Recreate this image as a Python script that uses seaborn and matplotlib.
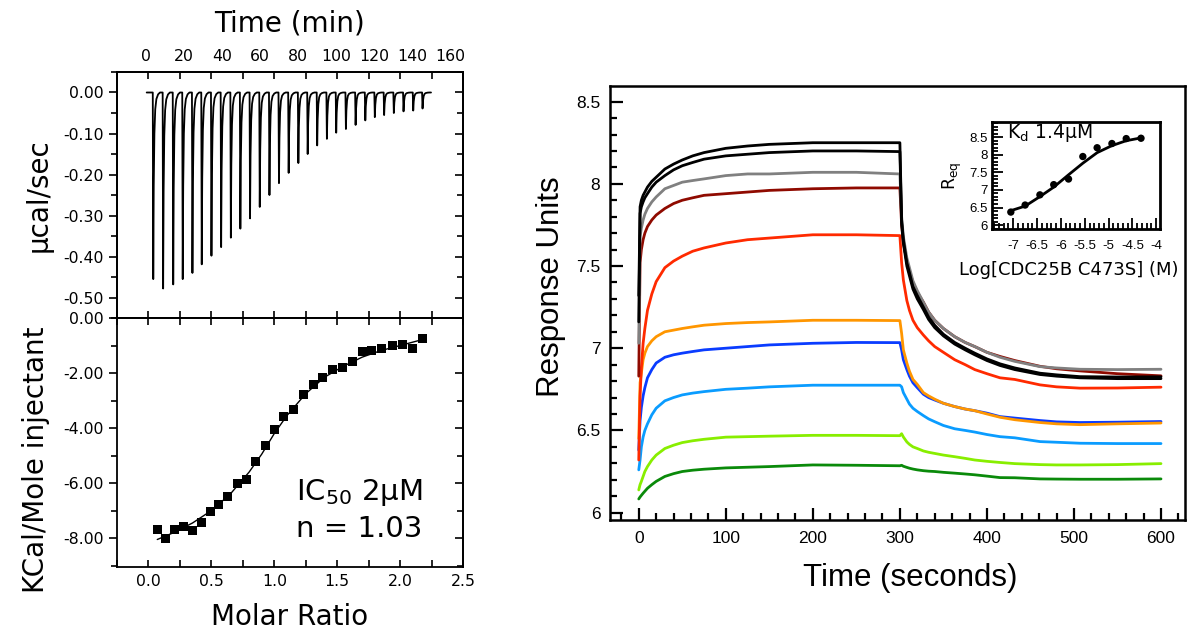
import matplotlib
matplotlib.use("Agg")
import numpy as np
import pandas as pd
import matplotlib.pyplot as plt
import seaborn as sns
from matplotlib.ticker import MultipleLocator, FormatStrFormatter

sns.set_style("ticks")
plt.rcParams["font.family"] = ["DejaVu Sans"]
plt.rcParams["axes.unicode_minus"] = False
for k in ("text.color", "axes.labelcolor", "xtick.color", "ytick.color", "axes.edgecolor"):
    plt.rcParams[k] = "black"

# ---------------- ITC raw data (injection times in min, peak depth in ucal/sec)
inj_time = [3.7, 8.9, 14.2, 19.2, 24.3, 29.2, 34.3, 39.4, 44.5, 49.5, 54.6, 59.7,
            64.8, 69.8, 74.9, 80.0, 84.9, 89.9, 95.0, 99.9, 105.0, 110.1, 115.2,
            120.2, 125.1, 130.2, 135.3, 140.4, 145.3]
inj_peak = [-0.455, -0.478, -0.468, -0.455, -0.440, -0.419, -0.398, -0.377, -0.354,
            -0.332, -0.307, -0.279, -0.250, -0.221, -0.196, -0.172, -0.150, -0.129,
            -0.113, -0.098, -0.089, -0.079, -0.068, -0.060, -0.055, -0.050, -0.046,
            -0.044, -0.039]
peak_dt = [0.0, 0.25, 0.5, 0.85, 1.3, 1.9, 2.8, 3.8]
peak_frac = [0.0, 1.0, 0.5, 0.22, 0.09, 0.035, 0.01, 0.0]
baseline_span = [0.5, 150.0]

# ---------------- ITC integrated heats
molar_ratio = [0.07, 0.139, 0.21, 0.28, 0.35, 0.42, 0.49, 0.56, 0.63, 0.71, 0.78, 0.85,
               0.93, 1.00, 1.07, 1.15, 1.23, 1.31, 1.38, 1.46, 1.54, 1.62, 1.70, 1.77,
               1.85, 1.94, 2.02, 2.10, 2.18]
heat = [-7.68, -8.00, -7.68, -7.58, -7.73, -7.43, -7.04, -6.78, -6.47, -6.03, -5.87,
        -5.22, -4.62, -4.05, -3.57, -3.31, -2.77, -2.41, -2.17, -1.87, -1.79, -1.58,
        -1.23, -1.19, -1.12, -0.99, -0.96, -1.10, -0.74]
fit_ratio = [0.07, 0.2, 0.35, 0.5, 0.65, 0.8, 0.9, 1.0, 1.1, 1.25, 1.4, 1.55, 1.7,
             1.85, 2.0, 2.18]
fit_heat = [-8.05, -7.8, -7.45, -7.0, -6.4, -5.6, -4.95, -4.2, -3.55, -2.75, -2.15,
            -1.75, -1.42, -1.18, -1.0, -0.78]

# ---------------- SPR sensorgrams (time in s, response units)
spr_time = [0, 1.5, 3, 5, 7, 10, 15, 20, 30, 40, 50, 62, 75, 100, 125, 150, 200, 250,
            300, 302, 304, 308, 311, 315, 320, 327, 333, 340, 350, 363, 375, 386, 400,
            415, 432, 461, 480, 507, 550, 600]
spr_black1 = [7.32, 7.86, 7.90, 7.93, 7.95, 7.98, 8.015, 8.04, 8.09, 8.12, 8.145, 8.17,
              8.19, 8.216, 8.23, 8.24, 8.25, 8.25, 8.25, 7.78, 7.66, 7.52, 7.46, 7.375,
              7.32, 7.25, 7.19, 7.14, 7.085, 7.035, 7.0, 6.97, 6.935, 6.905, 6.88, 6.848,
              6.838, 6.827, 6.825, 6.826]
spr_black2 = [7.16, 7.82, 7.86, 7.89, 7.915, 7.94, 7.98, 8.01, 8.05, 8.085, 8.11, 8.13,
              8.15, 8.17, 8.18, 8.19, 8.20, 8.20, 8.196, 7.76, 7.64, 7.50, 7.44, 7.36,
              7.30, 7.235, 7.175, 7.125, 7.075, 7.025, 6.99, 6.96, 6.925, 6.895, 6.87,
              6.84, 6.83, 6.82, 6.815, 6.815]
spr_gray = [7.03, 7.68, 7.73, 7.78, 7.815, 7.85, 7.89, 7.92, 7.97, 7.99, 8.01, 8.02,
            8.03, 8.05, 8.06, 8.06, 8.07, 8.07, 8.06, 7.80, 7.68, 7.55, 7.49, 7.41, 7.35,
            7.28, 7.22, 7.17, 7.12, 7.07, 7.035, 7.01, 6.975, 6.945, 6.92, 6.888, 6.88,
            6.872, 6.87, 6.872]
spr_darkred = [6.83, 7.52, 7.60, 7.66, 7.70, 7.74, 7.78, 7.81, 7.85, 7.88, 7.90, 7.915,
               7.93, 7.94, 7.95, 7.96, 7.97, 7.975, 7.975, 7.75, 7.64, 7.53, 7.47, 7.40,
               7.34, 7.28, 7.22, 7.17, 7.12, 7.07, 7.035, 7.01, 6.975, 6.95, 6.925, 6.89,
               6.875, 6.862, 6.845, 6.832]
spr_red = [6.32, 6.71, 6.88, 7.03, 7.12, 7.23, 7.33, 7.405, 7.49, 7.53, 7.56, 7.59,
           7.61, 7.64, 7.66, 7.67, 7.69, 7.69, 7.685, 7.52, 7.415, 7.29, 7.23, 7.17,
           7.125, 7.08, 7.045, 7.01, 6.975, 6.93, 6.90, 6.87, 6.845, 6.82, 6.81, 6.777,
           6.765, 6.757, 6.758, 6.763]
spr_orange = [6.45, 6.79, 6.85, 6.93, 6.97, 7.01, 7.045, 7.07, 7.10, 7.11, 7.12, 7.13,
              7.14, 7.15, 7.156, 7.16, 7.17, 7.17, 7.168, 7.09, 6.99, 6.91, 6.86, 6.81,
              6.78, 6.73, 6.71, 6.69, 6.665, 6.645, 6.63, 6.62, 6.60, 6.58, 6.565, 6.548,
              6.54, 6.535, 6.54, 6.545]
spr_blue = [6.38, 6.56, 6.64, 6.71, 6.76, 6.82, 6.87, 6.91, 6.945, 6.96, 6.97, 6.98,
            6.99, 7.00, 7.01, 7.02, 7.03, 7.035, 7.034, 6.99, 6.93, 6.87, 6.83, 6.79,
            6.76, 6.72, 6.70, 6.685, 6.665, 6.645, 6.63, 6.62, 6.605, 6.584, 6.575, 6.56,
            6.552, 6.548, 6.55, 6.554]
spr_lightblue = [6.26, 6.32, 6.40, 6.46, 6.50, 6.54, 6.595, 6.635, 6.68, 6.70, 6.716,
                 6.727, 6.736, 6.75, 6.757, 6.765, 6.775, 6.775, 6.775, 6.765, 6.73, 6.69,
                 6.66, 6.635, 6.615, 6.59, 6.57, 6.553, 6.53, 6.51, 6.50, 6.49, 6.475,
                 6.462, 6.455, 6.432, 6.428, 6.422, 6.42, 6.42]
spr_lightgreen = [6.138, 6.17, 6.19, 6.22, 6.25, 6.28, 6.32, 6.35, 6.39, 6.41, 6.426,
                  6.437, 6.446, 6.459, 6.462, 6.465, 6.47, 6.47, 6.468, 6.48, 6.46, 6.43,
                  6.415, 6.40, 6.39, 6.375, 6.367, 6.36, 6.35, 6.34, 6.33, 6.32, 6.312,
                  6.305, 6.298, 6.292, 6.29, 6.29, 6.292, 6.298]
spr_darkgreen = [6.083, 6.095, 6.105, 6.118, 6.13, 6.148, 6.17, 6.19, 6.22, 6.237, 6.25,
                 6.258, 6.264, 6.272, 6.276, 6.28, 6.29, 6.288, 6.285, 6.288, 6.282,
                 6.275, 6.27, 6.265, 6.26, 6.255, 6.252, 6.25, 6.245, 6.24, 6.235, 6.23,
                 6.222, 6.213, 6.212, 6.205, 6.204, 6.203, 6.203, 6.205]
spr_names = ["darkgreen", "lightgreen", "lightblue", "blue", "orange", "red", "darkred",
             "gray", "black2", "black1"]
spr_colors = ["#0a8a0a", "#88ee00", "#0a9cff", "#0a3cff", "#ff9600", "#ff2a00",
              "#8f0a00", "#808080", "#000000", "#000000"]

# ---------------- Inset (Req vs log conc)
log_conc = [-7.05, -6.75, -6.44, -6.15, -5.84, -5.54, -5.24, -4.93, -4.63, -4.32]
r_eq = [6.37, 6.57, 6.86, 7.15, 7.31, 7.95, 8.20, 8.32, 8.46, 8.47]
fit_log = [-7.05, -6.75, -6.44, -6.15, -5.84, -5.54, -5.24, -4.93, -4.63, -4.32]
fit_req = [6.41, 6.54, 6.81, 7.08, 7.43, 7.76, 8.06, 8.26, 8.40, 8.48]

# ============================================================
fig = plt.figure(figsize=(11.88, 6.31), dpi=100)

ax1 = fig.add_axes([0.0985, 0.496, 0.2912, 0.3899])
ax2 = fig.add_axes([0.0985, 0.1014, 0.2912, 0.3946])
ax3 = fig.add_axes([0.5135, 0.1759, 0.484, 0.6878])
ax4 = fig.add_axes([0.8348, 0.6366, 0.1417, 0.1705])

itc_fs = 11.3
lab_fs = 20

# ---- ITC raw trace
tt = [baseline_span[0]]
yy = [0.0]
for t0, p in zip(inj_time, inj_peak):
    for d, f in zip(peak_dt, peak_frac):
        tt.append(t0 + d)
        yy.append(p * f)
tt.append(baseline_span[1])
yy.append(0.0)

ax1t = ax1.twiny()
ax1.set_xlim(-0.25, 2.5)
ax1.set_ylim(-0.55, 0.05)
ax1t.set_xlim(-15.1, 166.8)
sns.lineplot(x=tt, y=yy, ax=ax1t, color="black", lw=1.3, estimator=None, sort=False)
ax1t.set_xticks(np.arange(0, 161, 20))
ax1t.tick_params(axis="x", length=0, labelsize=itc_fs, pad=6)
ax1t.set_xlabel("Time (min)", fontsize=lab_fs, labelpad=12)
ax1.xaxis.set_major_locator(MultipleLocator(0.25))
ax1.tick_params(axis="x", which="both", top=True, bottom=True, direction="in",
                labelbottom=False, labeltop=False, length=5, width=1.2)
ax1.yaxis.set_major_locator(MultipleLocator(0.1))
ax1.yaxis.set_minor_locator(MultipleLocator(0.05))
ax1.yaxis.set_major_formatter(FormatStrFormatter("%.2f"))
ax1.tick_params(axis="y", which="both", direction="out", labelsize=itc_fs, width=1.2)
ax1.tick_params(axis="y", which="major", length=6)
ax1.tick_params(axis="y", which="minor", length=4)
ax1.set_ylabel("μcal/sec", fontsize=lab_fs)
ax1.yaxis.set_label_coords(-0.185, 0.5)
sec1 = ax1.secondary_yaxis("right")
sec1.yaxis.set_major_locator(MultipleLocator(0.1))
sec1.yaxis.set_minor_locator(MultipleLocator(0.05))
sec1.tick_params(which="both", direction="in", labelright=False, width=1.2)
sec1.tick_params(which="major", length=6)
sec1.tick_params(which="minor", length=4)

# ---- ITC integrated
sns.lineplot(x=fit_ratio, y=fit_heat, ax=ax2, color="black", lw=1.0, estimator=None)
sns.scatterplot(x=molar_ratio, y=heat, ax=ax2, color="black", marker="s", s=42,
                edgecolor="none", zorder=5)
ax2.set_xlim(-0.25, 2.5)
ax2.set_ylim(-9.05, 0)
ax2.xaxis.set_major_locator(MultipleLocator(0.5))
ax2.xaxis.set_minor_locator(MultipleLocator(0.25))
ax2.xaxis.set_major_formatter(FormatStrFormatter("%.1f"))
ax2.tick_params(axis="x", which="both", top=True, bottom=True, direction="in",
                length=5, width=1.2, labelsize=itc_fs, pad=5)
ax2.yaxis.set_major_locator(MultipleLocator(2))
ax2.yaxis.set_minor_locator(MultipleLocator(1))
ax2.yaxis.set_major_formatter(FormatStrFormatter("%.2f"))
ax2.tick_params(axis="y", which="both", direction="out", labelsize=itc_fs, width=1.2)
ax2.tick_params(axis="y", which="major", length=6)
ax2.tick_params(axis="y", which="minor", length=4)
sec2 = ax2.secondary_yaxis("right")
sec2.yaxis.set_major_locator(MultipleLocator(2))
sec2.yaxis.set_minor_locator(MultipleLocator(1))
sec2.tick_params(which="both", direction="in", labelright=False, width=1.2)
sec2.tick_params(which="major", length=6)
sec2.tick_params(which="minor", length=4)
ax2.set_xlabel("Molar Ratio", fontsize=lab_fs, labelpad=10)
ax2.set_ylabel("KCal/Mole injectant", fontsize=lab_fs)
ax2.yaxis.set_label_coords(-0.195, 0.43)
ax2.text(1.175, -6.61, "IC$_{50}$ 2μM", fontsize=21, ha="left", va="baseline")
ax2.text(1.175, -7.97, "n = 1.03", fontsize=21, ha="left", va="baseline")

for a in (ax1, ax2, ax1t):
    for s in a.spines.values():
        s.set_linewidth(1.3)
for s in (sec1, sec2):
    s.spines["right"].set_linewidth(1.3)

# ---- SPR
rows = []
spr_values = [spr_darkgreen, spr_lightgreen, spr_lightblue, spr_blue, spr_orange,
              spr_red, spr_darkred, spr_gray, spr_black2, spr_black1]
for name, vals in zip(spr_names, spr_values):
    for t, v in zip(spr_time, vals):
        rows.append((name, t, v))
spr_df = pd.DataFrame(rows, columns=["curve", "time", "ru"])
sns.lineplot(data=spr_df, x="time", y="ru", hue="curve", hue_order=spr_names,
             palette=spr_colors, ax=ax3, lw=2.0, estimator=None, legend=False)
ax3.set_xlim(-33, 627.6)
ax3.set_ylim(5.955, 8.595)
spr_font = "Liberation Sans"
ax3.xaxis.set_major_locator(MultipleLocator(100))
ax3.xaxis.set_minor_locator(MultipleLocator(20))
ax3.yaxis.set_major_locator(MultipleLocator(0.5))
ax3.yaxis.set_minor_locator(MultipleLocator(0.1))
ax3.yaxis.set_major_formatter(FormatStrFormatter("%g"))
ax3.tick_params(which="both", direction="in", width=1.6, top=False, right=False,
                labelsize=12.5)
ax3.tick_params(which="major", length=9)
ax3.tick_params(which="minor", length=5)
ax3.tick_params(axis="x", pad=8)
ax3.tick_params(axis="y", pad=7)
for lab in ax3.get_xticklabels() + ax3.get_yticklabels():
    lab.set_family(spr_font)
ax3.set_xlabel("Time (seconds)", fontsize=22.5, family=spr_font)
ax3.set_ylabel("Response Units", fontsize=22.5, family=spr_font)
ax3.xaxis.set_label_coords(0.522, -0.1)
ax3.yaxis.set_label_coords(-0.077, 0.537)
for s in ax3.spines.values():
    s.set_linewidth(1.8)

# ---- Inset
sns.lineplot(x=fit_log, y=fit_req, ax=ax4, color="black", lw=2.0, estimator=None)
sns.scatterplot(x=log_conc, y=r_eq, ax=ax4, color="black", s=28, edgecolor="none",
                zorder=5)
ax4.set_xlim(-7.45, -3.92)
ax4.set_ylim(5.88, 8.94)
ax4.xaxis.set_major_locator(MultipleLocator(0.5))
ax4.xaxis.set_minor_locator(MultipleLocator(0.1))
ax4.yaxis.set_major_locator(MultipleLocator(0.5))
ax4.yaxis.set_minor_locator(MultipleLocator(0.1))
ax4.xaxis.set_major_formatter(FormatStrFormatter("%g"))
ax4.yaxis.set_major_formatter(FormatStrFormatter("%g"))
ax4.tick_params(which="both", direction="in", width=1.3, labelsize=9.5, top=False,
                right=False)
ax4.tick_params(which="major", length=8)
ax4.tick_params(which="minor", length=4.5)
ax4.tick_params(axis="x", pad=8)
ax4.tick_params(axis="y", pad=3)
for lab in ax4.get_xticklabels() + ax4.get_yticklabels():
    lab.set_family(spr_font)
ax4.set_xlabel("Log[CDC25B C473S] (M)", fontsize=13, labelpad=4)
ax4.xaxis.set_label_coords(0.46, -0.29)
ax4.set_ylabel("R$_{\\mathregular{eq}}$", fontsize=12.5)
ax4.text(-7.12, 8.62, "K$_{\\mathregular{d}}$ 1.4μM", fontsize=13.5, ha="left",
         va="center")
for s in ax4.spines.values():
    s.set_linewidth(2.0)

fig.savefig("out.png", dpi=100)
